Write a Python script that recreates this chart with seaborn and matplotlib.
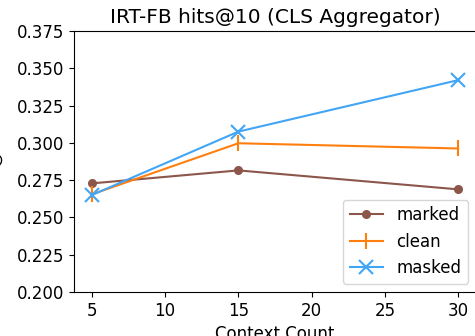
import matplotlib
matplotlib.use("Agg")
import matplotlib.pyplot as plt
import seaborn as sns
import pandas as pd

# data
context_count = [5, 15, 30]
marked = [0.2728, 0.2815, 0.2688]
clean = [0.2655, 0.2997, 0.2962]
masked = [0.2650, 0.3075, 0.3420]

series = ["marked", "clean", "masked"]
colors = {"marked": "#8c564b", "clean": "#ff7f0e", "masked": "#42a5f5"}
markers = {"marked": "o", "clean": "|", "masked": "x"}
sizes = {"marked": 5, "clean": 12, "masked": 10}

df = pd.DataFrame({
    "Context Count": context_count * 3,
    "hits@10": marked + clean + masked,
    "series": [s for s in series for _ in context_count],
})

fig = plt.figure(figsize=(4.75, 3.36), dpi=100)
# axes reach past the right/bottom edge like the cropped reference
ax = fig.add_axes([0.155, 0.131, 0.848, 0.777])

for s in series:
    sns.lineplot(data=df[df["series"] == s], x="Context Count", y="hits@10",
                 ax=ax, color=colors[s], marker=markers[s], markersize=sizes[s],
                 markeredgewidth=1.5, markeredgecolor=colors[s],
                 linewidth=1.5, label=s)

ax.set_ylim(0.2, 0.375)
ax.set_xlim(3.75, 31.25)
ax.set_xticks([5, 10, 15, 20, 25, 30])
ax.set_yticks([0.2, 0.225, 0.25, 0.275, 0.3, 0.325, 0.35, 0.375])
ax.tick_params(labelsize=12)
ax.set_xlabel("Context Count", fontsize=12)
ax.set_ylabel("hits@10", fontsize=12, labelpad=10)
ax.set_title("IRT-FB hits@10 (CLS Aggregator)", fontsize=14.5)
ax.legend(loc="lower right", fontsize=12)

fig.savefig("out.png", dpi=100)
